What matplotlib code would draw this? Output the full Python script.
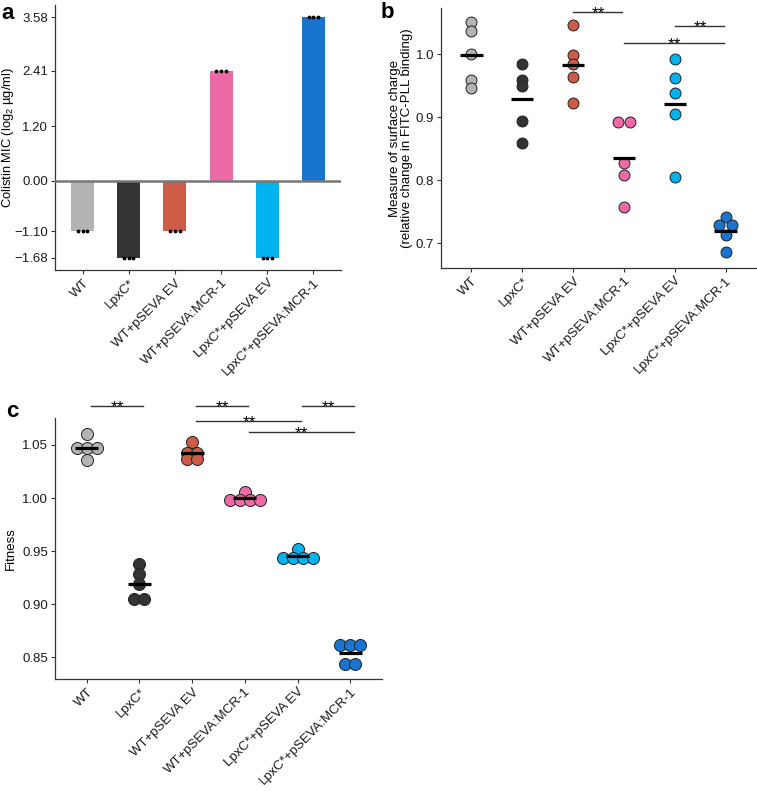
import numpy as np
import matplotlib
matplotlib.use("Agg")
import matplotlib.pyplot as plt

plt.rcParams["font.family"] = ["Liberation Sans", "DejaVu Sans"]
plt.rcParams["mathtext.fontset"] = "custom"
plt.rcParams["mathtext.rm"] = "Liberation Sans"
plt.rcParams["mathtext.it"] = "Liberation Sans:italic"
plt.rcParams["axes.unicode_minus"] = True

# Data
strains = ["WT", "LpxC*", "WT+pSEVA EV", "WT+pSEVA:MCR-1",
           "LpxC*+pSEVA EV", "LpxC*+pSEVA:MCR-1"]
colors = ["#B3B3B3", "#333333", "#CD5B45", "#EE6AA7", "#00B2EE", "#1874CD"]

# panel a: colistin MIC (log2 ug/ml), 3 replicates each
mic_reps = [
    [-1.10, -1.10, -1.10],
    [-1.68, -1.68, -1.68],
    [-1.10, -1.10, -1.10],
    [2.41, 2.41, 2.41],
    [-1.68, -1.68, -1.68],
    [3.58, 3.58, 3.58],
]
mic_ticks = [-1.68, -1.10, 0.00, 1.20, 2.41, 3.58]

# panel b: surface charge
charge = [
    [1.051, 1.037, 1.001, 0.959, 0.947],
    [0.984, 0.959, 0.949, 0.895, 0.859],
    [1.047, 0.999, 0.984, 0.964, 0.922],
    [0.892, 0.892, 0.828, 0.808, 0.758],
    [0.993, 0.963, 0.938, 0.906, 0.805],
    [0.742, 0.729, 0.729, 0.714, 0.686],
]
charge_sig = [(3, 4, "**"), (5, 6, "**"), (4, 6, "**")]

# panel c: fitness
fitness = [
    [1.0606, 1.0469, 1.0469, 1.0469, 1.0356],
    [0.9378, 0.9284, 0.9190, 0.9048, 0.9048],
    [1.0531, 1.0428, 1.0428, 1.0365, 1.0365],
    [1.0061, 0.9980, 0.9980, 0.9980, 0.9980],
    [0.9519, 0.9434, 0.9434, 0.9434, 0.9434],
    [0.8616, 0.8616, 0.8616, 0.8437, 0.8437],
]
fitness_sig = [(1, 2, "**"), (3, 4, "**"), (5, 6, "**"), (3, 5, "**"), (4, 6, "**")]

W, H = 757, 791
fig = plt.figure(figsize=(W / 100, H / 100), dpi=100)


def px_axes(left, top, right, bottom):
    return fig.add_axes([left / W, 1 - bottom / H, (right - left) / W, (bottom - top) / H])


def style(ax):
    for s in ["top", "right"]:
        ax.spines[s].set_visible(False)
    for s in ["left", "bottom"]:
        ax.spines[s].set_color("#333333")
        ax.spines[s].set_linewidth(0.9)
    ax.tick_params(length=3, width=0.8, color="#333333", labelsize=9.5,
                   labelcolor="#1a1a1a", pad=2)
    ax.set_xticks(range(1, 7))
    ax.set_xticklabels(strains, rotation=45, ha="right", va="top",
                       rotation_mode="anchor")
    ax.set_xlim(0.4, 6.6)


def dodge(vals, step):
    vals = np.asarray(vals)
    offs = np.zeros(len(vals))
    for v in np.unique(vals):
        idx = np.where(vals == v)[0]
        n = len(idx)
        offs[idx] = (np.arange(n) - (n - 1) / 2) * step
    return offs


def dots(ax, groups, step, size):
    for i, vals in enumerate(groups):
        x = i + 1 + dodge(vals, step)
        ax.scatter(x, vals, s=size, color=colors[i], edgecolor="#222222",
                   linewidth=0.7, zorder=3)
        m = np.mean(vals)
        ax.plot([i + 1 - 0.22, i + 1 + 0.22], [m, m], color="black",
                lw=2.3, zorder=4, solid_capstyle="butt")


def brackets(ax, sigs, ys, dx=(0.0, 0.0)):
    for (a, b, lab), y in zip(sigs, ys):
        ax.plot([a + dx[0], b + dx[1]], [y, y], color="#333333", lw=1.0,
                clip_on=False, zorder=5)
        ax.annotate(lab, ((a + b) / 2 + dx[0], y), xytext=(0, -4.5),
                    textcoords="offset points", ha="center", va="baseline",
                    fontsize=12.5, annotation_clip=False)


# Panel a
ax_a = px_axes(55, 5, 341, 270)
style(ax_a)
means_a = [np.mean(r) for r in mic_reps]
ax_a.bar(range(1, 7), means_a, width=0.5, color=colors, zorder=2)
ax_a.axhline(0, color="#777777", lw=1.8, zorder=3)
for i, reps in enumerate(mic_reps):
    ax_a.scatter(i + 1 + np.array([-0.1, 0.0, 0.1]), reps, s=3,
                 color="black", zorder=4)
ax_a.set_ylim(-1.95, 3.85)
ax_a.set_yticks(mic_ticks)
ax_a.set_yticklabels([f"{t:.2f}".replace("-", "\u2212") for t in mic_ticks])
ax_a.set_ylabel("Colistin MIC (log$_2$ µg/ml)", fontsize=9.3)
ax_a.yaxis.set_label_coords(-0.135, 0.5)

# Panel b
ax_b = px_axes(441, 8, 756, 268)
style(ax_b)
dots(ax_b, charge, 0.25, 62)
ax_b.set_ylim(0.661, 1.0735)
ax_b.set_yticks([0.7, 0.8, 0.9, 1.0])
ax_b.set_yticklabels(["0.7", "0.8", "0.9", "1.0"])
ax_b.set_ylabel("Measure of surface charge\n(relative change in FITC-PLL binding)",
                fontsize=9.5, linespacing=1.0)
ax_b.yaxis.set_label_coords(-0.089, 0.5)
brackets(ax_b, charge_sig, [1.0677, 1.0455, 1.018], dx=(0.0, -0.03))

# Panel c
ax_c = px_axes(55, 418, 382, 679)
style(ax_c)
dots(ax_c, fitness, 0.19, 75)
ax_c.set_ylim(0.8297, 1.0754)
ax_c.set_yticks([0.85, 0.90, 0.95, 1.00, 1.05])
ax_c.set_yticklabels(["0.85", "0.90", "0.95", "1.00", "1.05"])
ax_c.set_ylabel("Fitness", fontsize=9.5)
ax_c.yaxis.set_label_coords(-0.116, 0.5)
brackets(ax_c, fitness_sig, [1.087, 1.087, 1.087, 1.0726, 1.0619], dx=(0.08, 0.06))

# Panel letters
fig.text(1 / W, 1 - 19 / H, "a", fontsize=16, fontweight="bold", va="baseline")
fig.text(381 / W, 1 - 18 / H, "b", fontsize=16, fontweight="bold", va="baseline")
fig.text(6 / W, 1 - 417 / H, "c", fontsize=16, fontweight="bold", va="baseline")

fig.savefig("out.png", dpi=100)
